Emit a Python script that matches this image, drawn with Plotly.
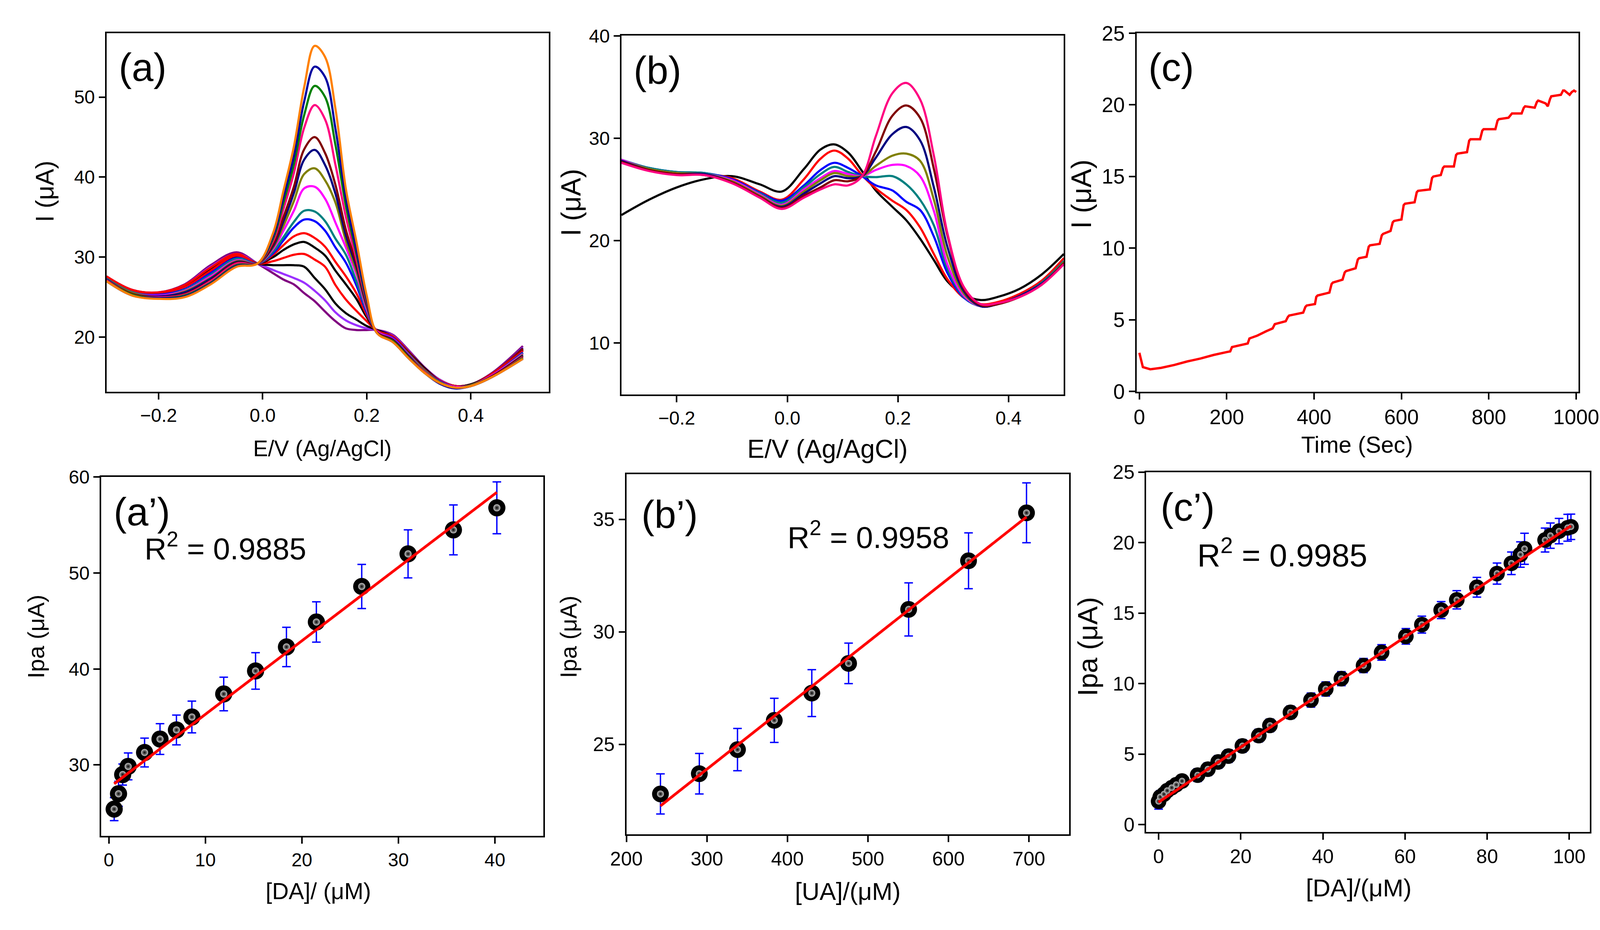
import plotly.graph_objects as go

W, H = 4165, 2381
FONT = "Arial, 'Liberation Sans', sans-serif"

# ---------------- (a) DPV curves, DA additions ----------------
E_a = [-0.30, -0.25, -0.20, -0.15, -0.10, -0.05, -0.01, 0.02, 0.04, 0.06, 0.08, 0.10, 0.12,
       0.14, 0.16, 0.18, 0.20, 0.22, 0.25, 0.28, 0.31, 0.34, 0.37, 0.40, 0.44, 0.50]

a_purple  = [27.6, 25.9, 25.6, 26.6, 29.0, 30.6, 29.2, 28.0, 27.2, 26.6, 25.5, 24.5, 23.2, 22.0, 21.1, 20.9, 20.9,
             20.9, 20.3, 18.4, 16.3, 14.7, 13.9, 14.1, 15.5, 18.9]
a_violet  = [27.5, 25.9, 25.5, 26.5, 28.8, 30.4, 29.2, 28.4, 27.9, 27.4, 26.8, 25.8, 24.6, 23.1, 22.1, 21.5, 21.1,
             20.9, 20.2, 18.3, 16.2, 14.7, 13.9, 14.1, 15.4, 18.7]
a_black1  = [27.5, 25.8, 25.5, 26.4, 28.6, 30.3, 29.2, 29.0, 29.0, 29.0, 28.8, 27.4, 26.0, 24.2, 23.0, 22.2, 21.4,
             20.9, 20.1, 18.2, 16.2, 14.6, 13.9, 14.1, 15.4, 18.6]
a_red1    = [27.6, 25.9, 25.6, 26.5, 28.7, 30.4, 29.2, 29.5, 29.9, 30.3, 30.4, 29.7, 28.8, 26.5, 24.7, 23.3, 22.0,
             20.8, 20.1, 18.2, 16.1, 14.6, 13.9, 14.1, 15.4, 18.5]
a_black2  = [27.4, 25.7, 25.4, 26.2, 28.3, 30.1, 29.2, 30.0, 30.9, 31.6, 31.9, 31.2, 30.2, 28.3, 26.6, 24.8, 22.5,
             20.8, 20.0, 18.1, 16.1, 14.5, 13.8, 14.1, 15.3, 18.4]
a_red2    = [27.5, 25.8, 25.4, 26.2, 28.3, 30.2, 29.2, 30.3, 31.5, 32.6, 33.0, 32.4, 31.3, 29.4, 27.6, 25.5, 22.8,
             20.8, 20.0, 18.0, 16.0, 14.5, 13.8, 14.0, 15.3, 18.3]
a_blue1   = [27.3, 25.6, 25.3, 26.0, 28.0, 29.9, 29.2, 30.5, 32.1, 33.7, 34.7, 34.5, 33.3, 31.2, 29.3, 26.5, 23.1,
             20.7, 19.9, 17.9, 15.9, 14.5, 13.8, 14.0, 15.2, 18.1]
a_teal    = [27.3, 25.6, 25.2, 25.9, 27.8, 29.8, 29.2, 30.7, 32.5, 34.4, 35.8, 35.7, 34.5, 32.3, 30.3, 27.0, 23.3,
             20.7, 19.8, 17.9, 15.9, 14.4, 13.8, 14.0, 15.2, 18.0]
a_magenta = [27.2, 25.5, 25.2, 25.8, 27.6, 29.6, 29.2, 31.0, 33.3, 35.8, 38.6, 38.8, 37.3, 34.3, 31.2, 27.9, 23.5,
             20.7, 19.8, 17.8, 15.8, 14.4, 13.8, 14.0, 15.2, 17.9]
a_olive   = [27.2, 25.5, 25.1, 25.7, 27.4, 29.5, 29.2, 31.2, 33.9, 37.0, 40.4, 41.1, 39.6, 36.8, 32.0, 28.3, 23.8,
             20.6, 19.7, 17.7, 15.8, 14.4, 13.7, 14.0, 15.1, 17.8]
a_navy    = [27.2, 25.4, 25.1, 25.6, 27.3, 29.4, 29.2, 31.4, 34.5, 38.0, 42.2, 43.4, 41.5, 37.9, 32.7, 28.8, 24.0,
             20.6, 19.7, 17.7, 15.7, 14.3, 13.7, 13.9, 15.1, 17.7]
a_darkred = [27.1, 25.4, 25.0, 25.4, 27.1, 29.3, 29.2, 31.6, 35.0, 38.8, 43.5, 45.0, 43.0, 39.0, 33.4, 29.2, 24.2,
             20.6, 19.6, 17.6, 15.7, 14.3, 13.7, 13.9, 15.1, 17.6]
a_pink    = [27.1, 25.3, 25.0, 25.3, 27.0, 29.2, 29.2, 32.0, 36.0, 40.5, 46.2, 49.0, 47.2, 41.5, 35.0, 29.8, 24.4,
             20.5, 19.5, 17.5, 15.7, 14.3, 13.7, 13.9, 15.0, 17.5]
a_green   = [27.0, 25.3, 24.9, 25.2, 26.8, 29.0, 29.2, 32.3, 36.8, 41.6, 47.8, 51.4, 50.0, 44.0, 36.4, 30.5, 24.6,
             20.5, 19.5, 17.5, 15.6, 14.3, 13.7, 13.9, 15.0, 17.4]
a_blue2   = [27.0, 25.2, 24.9, 25.1, 26.7, 28.9, 29.2, 32.6, 37.5, 42.6, 49.5, 53.8, 52.5, 46.0, 37.4, 31.0, 24.8,
             20.5, 19.4, 17.4, 15.6, 14.2, 13.6, 13.9, 15.0, 17.3]
a_orange  = [27.0, 25.2, 24.8, 25.0, 26.6, 28.8, 29.2, 33.0, 38.3, 43.8, 51.3, 56.4, 55.0, 48.5, 38.5, 32.0, 25.2,
             20.5, 19.4, 17.4, 15.6, 14.3, 13.7, 13.9, 15.0, 17.3]

a_series = [
    (a_purple, "#800080"), (a_violet, "#9B30FF"), (a_black1, "#000000"), (a_red1, "#FF0000"),
    (a_black2, "#000000"), (a_red2, "#FF0000"), (a_blue1, "#0000FF"), (a_teal, "#008080"),
    (a_magenta, "#FF00FF"), (a_olive, "#808000"), (a_navy, "#000080"), (a_darkred, "#800000"),
    (a_pink, "#FF0080"), (a_green, "#008000"), (a_blue2, "#0000A0"), (a_orange, "#FF8000"),
]

# ---------------- (b) DPV curves, UA additions ----------------
E_b = [-0.30, -0.25, -0.20, -0.15, -0.10, -0.05, -0.01, 0.03, 0.06, 0.085, 0.11, 0.135, 0.16,
       0.19, 0.215, 0.24, 0.265, 0.29, 0.32, 0.35, 0.38, 0.42, 0.46, 0.50]

b_black   = [22.5, 24.0, 25.2, 26.0, 26.3, 25.5, 24.8, 27.0, 28.9, 29.4, 28.6, 26.8, 24.9, 23.3, 22.0, 20.2, 18.1,
             16.0, 14.7, 14.2, 14.5, 15.3, 16.7, 18.7]
b_red     = [27.8, 27.0, 26.6, 26.5, 26.1, 24.8, 24.0, 26.0, 28.0, 28.8, 28.0, 26.4, 25.1, 23.9, 23.0, 21.3, 18.7,
             16.2, 14.4, 13.8, 14.0, 14.8, 16.1, 18.3]
b_blue    = [27.9, 27.1, 26.7, 26.6, 26.0, 24.7, 23.9, 25.4, 26.9, 27.6, 27.1, 26.3, 25.4, 24.9, 23.8, 23.0, 20.4,
             16.8, 14.4, 13.6, 13.8, 14.6, 15.9, 18.0]
b_teal    = [27.9, 27.1, 26.7, 26.6, 25.9, 24.6, 23.7, 25.2, 26.5, 27.2, 26.7, 26.3, 26.2, 26.3, 25.5, 24.0, 21.5,
             17.2, 14.5, 13.6, 13.8, 14.6, 15.9, 18.0]
b_magenta = [27.9, 27.0, 26.6, 26.5, 25.9, 24.5, 23.5, 25.0, 26.1, 26.8, 26.5, 26.3, 26.9, 27.4, 27.3, 26.3, 22.9,
             17.6, 14.6, 13.6, 13.8, 14.6, 15.8, 17.9]
b_olive   = [27.8, 27.0, 26.6, 26.5, 25.8, 24.4, 23.4, 24.8, 25.9, 26.6, 26.3, 26.3, 27.3, 28.3, 28.5, 27.8, 24.0,
             18.4, 14.8, 13.6, 13.8, 14.6, 15.8, 17.9]
b_navy    = [27.8, 26.9, 26.5, 26.5, 25.7, 24.3, 23.3, 24.6, 25.6, 26.3, 26.1, 26.3, 28.1, 30.4, 31.1, 29.8, 25.2,
             19.3, 15.0, 13.6, 13.8, 14.6, 15.8, 17.8]
b_darkred = [27.7, 26.9, 26.5, 26.4, 25.7, 24.3, 23.2, 24.4, 25.2, 25.9, 25.8, 26.3, 28.7, 32.2, 33.2, 32.0, 27.0,
             20.4, 15.2, 13.7, 13.8, 14.5, 15.7, 17.8]
b_pink    = [27.6, 26.8, 26.4, 26.4, 25.6, 24.2, 23.1, 24.2, 25.0, 25.5, 25.4, 26.3, 30.2, 34.4, 35.4, 33.8, 28.3,
             20.6, 15.4, 13.8, 13.9, 14.5, 15.7, 17.7]

b_series = [
    (b_black, "#000000"), (b_red, "#FF0000"), (b_blue, "#0000FF"), (b_teal, "#008080"),
    (b_magenta, "#FF00FF"), (b_olive, "#808000"), (b_navy, "#000080"), (b_darkred, "#800000"),
    (b_pink, "#FF0080"),
]

# ---------------- (c) amperometric i-t ----------------
t_c = [0, 2, 8, 25, 50, 80, 110, 140, 170, 200, 208, 212, 240, 248, 252, 270, 290, 305, 310, 335, 340, 343,
       375, 380, 383, 402, 405, 408, 435, 440, 443, 465, 470, 473, 495, 500, 503, 520, 525, 528, 550, 555,
       558, 575, 580, 583, 600, 605, 608, 630, 635, 638, 665, 670, 673, 690, 695, 698, 720, 725, 728, 750,
       755, 758, 780, 785, 788, 815, 820, 823, 845, 850, 853, 875, 880, 883, 905, 910, 913, 930, 935, 940,
       943, 965, 970, 973, 985, 990, 995, 1000]
i_c = [2.7, 2.4, 1.7, 1.55, 1.65, 1.85, 2.1, 2.3, 2.55, 2.75, 2.8, 3.1, 3.3, 3.35, 3.7, 3.9, 4.2, 4.4, 4.7,
       4.9, 5.2, 5.3, 5.5, 5.9, 6.0, 6.1, 6.6, 6.7, 6.9, 7.5, 7.6, 7.8, 8.3, 8.4, 8.6, 9.2, 9.3, 9.4, 10.1,
       10.2, 10.3, 10.9, 11.0, 11.2, 11.8, 11.9, 12.0, 13.0, 13.1, 13.2, 13.9, 14.0, 14.1, 14.9, 15.0, 15.1,
       15.6, 15.7, 15.7, 16.5, 16.6, 16.7, 17.5, 17.6, 17.6, 18.2, 18.3, 18.3, 18.9, 19.0, 19.1, 19.3, 19.4,
       19.4, 19.8, 19.9, 19.8, 20.2, 20.3, 20.1, 19.9, 20.4, 20.6, 20.7, 21.0, 21.0, 20.7, 20.9, 21.0, 20.9]

# ---------------- (a') calibration, DA ----------------
da_a = [0.55, 1.0, 1.43, 2.0, 3.7, 5.3, 7.0, 8.6, 11.9, 15.2, 18.4, 21.5, 26.2, 31.0, 35.7, 40.2]
ipa_a = [25.4, 27.0, 29.0, 29.85, 31.3, 32.7, 33.65, 35.0, 37.4, 39.8, 42.3, 44.9, 48.6, 52.0, 54.5, 56.8]
err_a = [1.2, 1.3, 1.1, 1.4, 1.5, 1.6, 1.55, 1.65, 1.75, 1.9, 2.05, 2.1, 2.3, 2.5, 2.6, 2.7]
fit_a = (0.766, 27.62)   # slope, intercept

# ---------------- (b') calibration, UA ----------------
ua_b = [242.3, 290.6, 338.0, 383.7, 430.3, 476.0, 550.6, 625.0, 697.0]
ipa_b = [22.8, 23.7, 24.77, 26.07, 27.28, 28.6, 31.0, 33.16, 35.29]
err_b = [0.89, 0.9, 0.94, 0.98, 1.04, 0.9, 1.18, 1.24, 1.33]
fit_b = (0.02823, 15.43)

# ---------------- (c') calibration, DA amperometric ----------------
da_c = [0, 0.4, 1.3, 2.1, 3.2, 4.3, 5.7, 9.5, 12.0, 14.5, 17.0, 20.4, 24.4, 27.1, 32.1, 37.1, 40.7, 44.5,
        49.9, 54.3, 60.2, 64.1, 68.8, 72.6, 77.5, 82.4, 85.9, 88.1, 89.1, 94.1, 95.4, 97.5, 99.6, 100.4]
ipa_c = [1.66, 1.97, 2.17, 2.42, 2.63, 2.84, 3.1, 3.52, 3.94, 4.45, 4.87, 5.59, 6.32, 7.04, 7.97, 8.84, 9.63,
         10.36, 11.29, 12.22, 13.36, 14.19, 15.22, 15.95, 16.84, 17.81, 18.54, 19.16, 19.57, 20.19, 20.5,
         20.82, 21.06, 21.13]
err_c = [0.55, 0.45, 0.4, 0.4, 0.4, 0.4, 0.4, 0.45, 0.45, 0.45, 0.45, 0.45, 0.45, 0.45, 0.45, 0.5, 0.5, 0.5,
         0.5, 0.55, 0.55, 0.6, 0.6, 0.65, 0.7, 0.75, 0.8, 0.9, 1.1, 0.85, 0.9, 0.9, 0.95, 0.9]
fit_c = (0.1952, 1.6)


# panel frames in pixels: left, top, right, bottom
boxes = {
    "": (236, 57, 1395, 998),
    "2": (1585, 64, 2744, 1005),
    "3": (2935, 57, 4092, 998),
    "4": (222, 1222, 1380, 2164),
    "5": (1598, 1215, 2758, 2160),
    "6": (2960, 1209, 4122, 2153),
}


def axis(domain, rng, dtick, size, anchor, fmt=None, tick0=None):
    d = dict(domain=domain, range=rng, dtick=dtick, anchor=anchor,
             showline=True, linecolor="black", linewidth=4, mirror=True,
             ticks="outside", ticklen=16, tickwidth=4, tickcolor="black",
             showgrid=False, zeroline=False,
             tickfont=dict(family=FONT, size=size, color="black"))
    if fmt:
        d["tickformat"] = fmt
    if tick0 is not None:
        d["tick0"] = tick0
    return d


fig = go.Figure()

for ys, col in a_series:
    fig.add_trace(go.Scatter(x=E_a, y=ys, mode="lines", line=dict(color=col, width=5.5, shape="spline"),
                             xaxis="x", yaxis="y", showlegend=False))

for ys, col in b_series:
    fig.add_trace(go.Scatter(x=E_b, y=ys, mode="lines", line=dict(color=col, width=5.5, shape="spline"),
                             xaxis="x2", yaxis="y2", showlegend=False))

fig.add_trace(go.Scatter(x=t_c, y=i_c, mode="lines", line=dict(color="#FF0000", width=6),
                         xaxis="x3", yaxis="y3", showlegend=False))


def calib(xs, ys, errs, fit, n, msize):
    xa, ya = "x" + n, "y" + n
    # black spheres with blue error bars
    fig.add_trace(go.Scatter(
        x=xs, y=ys, mode="markers",
        error_y=dict(type="data", array=errs, color="#0000FF", thickness=3.5, width=11),
        marker=dict(size=msize, color="#000000", line=dict(width=0)),
        xaxis=xa, yaxis=ya, showlegend=False))
    # small shine in the middle of each sphere
    fig.add_trace(go.Scatter(
        x=xs, y=ys, mode="markers",
        marker=dict(size=msize * 0.42, color="#C8C8C8", gradient=dict(type="radial", color="#000000"),
                    line=dict(width=0)),
        xaxis=xa, yaxis=ya, showlegend=False, hoverinfo="skip"))
    # linear fit over the data range
    x0, x1 = min(xs), max(xs)
    fig.add_trace(go.Scatter(
        x=[x0, x1], y=[fit[0] * x0 + fit[1], fit[0] * x1 + fit[1]], mode="lines",
        line=dict(color="#FF0000", width=7), xaxis=xa, yaxis=ya, showlegend=False))


calib(da_a, ipa_a, err_a, fit_a, "4", 44)
calib(ua_b, ipa_b, err_b, fit_b, "5", 43)
calib(da_c, ipa_c, err_c, fit_c, "6", 40)


def dom(n):
    l, t, r, b = boxes[n]
    return [l / W, r / W], [1 - b / H, 1 - t / H]


lay = {}
specs = {
    "": dict(xr=[-0.3, 0.55], xd=0.2, yr=[13.2, 58], yd=10, xf=".1f", fs=48),
    "2": dict(xr=[-0.3, 0.5], xd=0.2, yr=[5, 40.01], yd=10, xf=".1f", fs=48),
    "3": dict(xr=[-6, 1005], xd=200, yr=[-0.01, 25.01], yd=5, xf=None, fs=53),
    "4": dict(xr=[-0.8, 45], xd=10, yr=[22.6, 60.01], yd=10, xf=None, fs=48),
    "5": dict(xr=[199.99, 750], xd=100, yr=[21, 37], yd=5, xf=None, fs=50),
    "6": dict(xr=[-3, 105], xd=20, yr=[-0.5, 25.01], yd=5, xf=None, fs=50),
}
for n, s in specs.items():
    xd, yd = dom(n)
    lay["xaxis" + n] = axis(xd, s["xr"], s["xd"], s["fs"], "y" + n, fmt=s["xf"], tick0=0)
    lay["yaxis" + n] = axis(yd, s["yr"], s["yd"], s["fs"], "x" + n, tick0=0)


def note(text, x, y, size, angle=0):
    return dict(text=text, x=x / W, y=1 - y / H, xref="paper", yref="paper", showarrow=False,
                xanchor="center", yanchor="middle", textangle=angle,
                font=dict(family=FONT, size=size, color="black"))


annotations = [
    # panel labels
    note("(a)", 331, 147, 100), note("(b)", 1679, 155, 100), note("(c)", 3026, 147, 100),
    note("(a\u2019)", 328, 1313, 100), note("(b\u2019)", 1711, 1320, 100), note("(c\u2019)", 3068, 1301, 100),
    # R squared
    note("R<sup>2</sup> = 0.9885", 547, 1405, 78),
    note("R<sup>2</sup> = 0.9958", 2232, 1375, 78),
    note("R<sup>2</sup> = 0.9985", 3316, 1421, 82),
    # x titles
    note("E/V (Ag/AgCl)", 802, 1147, 57),
    note("E/V (Ag/AgCl)", 2125, 1148, 66),
    note("Time (Sec)", 3512, 1138, 59),
    note("[DA]/ (\u03bcM)", 791, 2309, 59),
    note("[UA]/(\u03bcM)", 2178, 2309, 63),
    note("[DA]/(\u03bcM)", 3517, 2300, 63),
    # y titles
    note("I (\u03bcA)", 74, 472, 64, -90),
    note("I (\u03bcA)", 1453, 501, 70, -90),
    note("I (\u03bcA)", 2790, 480, 72, -90),
    note("Ipa (\u03bcA)", 51, 1640, 60, -90),
    note("Ipa (\u03bcA)", 1447, 1641, 59, -90),
    note("Ipa (\u03bcA)", 2806, 1667, 71, -90),
]

fig.update_layout(
    width=W, height=H,
    margin=dict(l=0, r=0, t=0, b=0),
    paper_bgcolor="white", plot_bgcolor="white",
    font=dict(family=FONT, color="black"),
    annotations=annotations,
    **lay
)

fig.write_html("out.html", config={"displayModeBar": False},
               post_script="document.body.style.margin='0';document.body.style.overflow='hidden';")
